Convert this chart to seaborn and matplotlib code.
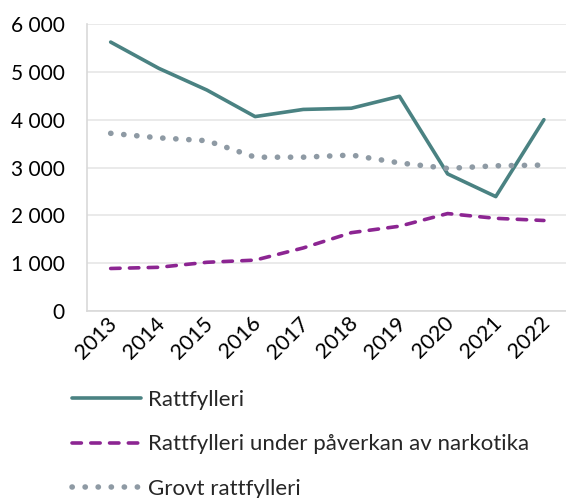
import matplotlib
matplotlib.use("Agg")
import matplotlib.pyplot as plt
import matplotlib.transforms as mtransforms
import seaborn as sns
import pandas as pd
import numpy as np
from matplotlib.ticker import FuncFormatter, FixedLocator
from matplotlib.lines import Line2D

years = ["2013", "2014", "2015", "2016", "2017", "2018", "2019", "2020", "2021", "2022"]
rattfylleri = [5630, 5080, 4625, 4070, 4220, 4245, 4495, 2870, 2395, 4005]
narkotika = [890, 915, 1020, 1065, 1320, 1640, 1775, 2040, 1940, 1895]
grovt = [3720, 3625, 3565, 3220, 3220, 3265, 3100, 2985, 3040, 3055]
series_names = ["Rattfylleri", "Rattfylleri under påverkan av narkotika", "Grovt rattfylleri"]

sns.set_theme(style="white")
plt.rcParams['font.family'] = ['Lato', 'DejaVu Sans']
plt.rcParams['lines.dash_capstyle'] = 'round'
plt.rcParams['lines.solid_capstyle'] = 'round'

df = pd.DataFrame({
    "x": np.tile(np.arange(len(years)), 3),
    "value": rattfylleri + narkotika + grovt,
    "series": np.repeat(series_names, len(years)),
})

colors = {series_names[0]: "#4A8282", series_names[1]: "#8C2592", series_names[2]: "#8E9AA4"}
widths = {series_names[0]: 2.6, series_names[1]: 2.6, series_names[2]: 4.0}
dashes = {series_names[0]: "", series_names[1]: (2.6, 2.6), series_names[2]: (0.05, 2.3)}

fig = plt.figure(figsize=(5.66, 4.98), dpi=100)
ax = fig.add_axes([0.153, 0.3755, 0.8505, 0.5755])

sns.lineplot(data=df, x="x", y="value", hue="series", style="series",
             size="series", sizes=widths,
             palette=colors, dashes=dashes, ax=ax, legend=False)
for line in ax.get_lines():
    line.set_dash_capstyle("round")
    line.set_solid_capstyle("round")

ax.set_xlim(-0.5, len(years) - 0.5)
ax.set_ylim(0, 6000)
ax.set_yticks(range(0, 6001, 1000))
ax.yaxis.set_major_formatter(FuncFormatter(lambda v, p: f"{int(v):,}".replace(",", " ")))
ax.set_xticks(range(len(years)))
ax.set_xticklabels(years, rotation=45, ha="right", va="top", rotation_mode="anchor")
ax.xaxis.set_minor_locator(FixedLocator(np.arange(-0.5, len(years), 1.0)))
ax.tick_params(axis="x", which="major", length=0, pad=3, labelsize=15.5, colors="black")
ax.tick_params(axis="x", which="minor", length=7, width=1.2, color="#d9d9d9", direction="out")
ax.tick_params(axis="y", length=6, width=1.2, color="#d9d9d9", direction="out", labelsize=15, pad=10, labelcolor="black")
offset = mtransforms.ScaledTranslation(-4 / 100, 2 / 100, fig.dpi_scale_trans)
for lab in ax.get_xticklabels():
    lab.set_transform(lab.get_transform() + offset)
ax.grid(axis="y", color="#e6e6e6", linewidth=1.2)
ax.set_axisbelow(True)
for s in ["top", "right"]:
    ax.spines[s].set_visible(False)
for s in ["left", "bottom"]:
    ax.spines[s].set_color("#d9d9d9")
    ax.spines[s].set_linewidth(1.2)
ax.set_xlabel("")
ax.set_ylabel("")

handles = []
for name in series_names:
    h = Line2D([], [], color=colors[name], linewidth=widths[name])
    if dashes[name]:
        h.set_dashes(dashes[name])
    h.set_dash_capstyle("round")
    h.set_solid_capstyle("round")
    handles.append(h)
fig.legend(handles, series_names, loc="upper left", bbox_to_anchor=(0.128, 0.217),
           frameon=False, fontsize=16, handlelength=3.1, handletextpad=0.3,
           labelspacing=1.1, borderpad=0, borderaxespad=0)

fig.savefig("out.png", dpi=100)
